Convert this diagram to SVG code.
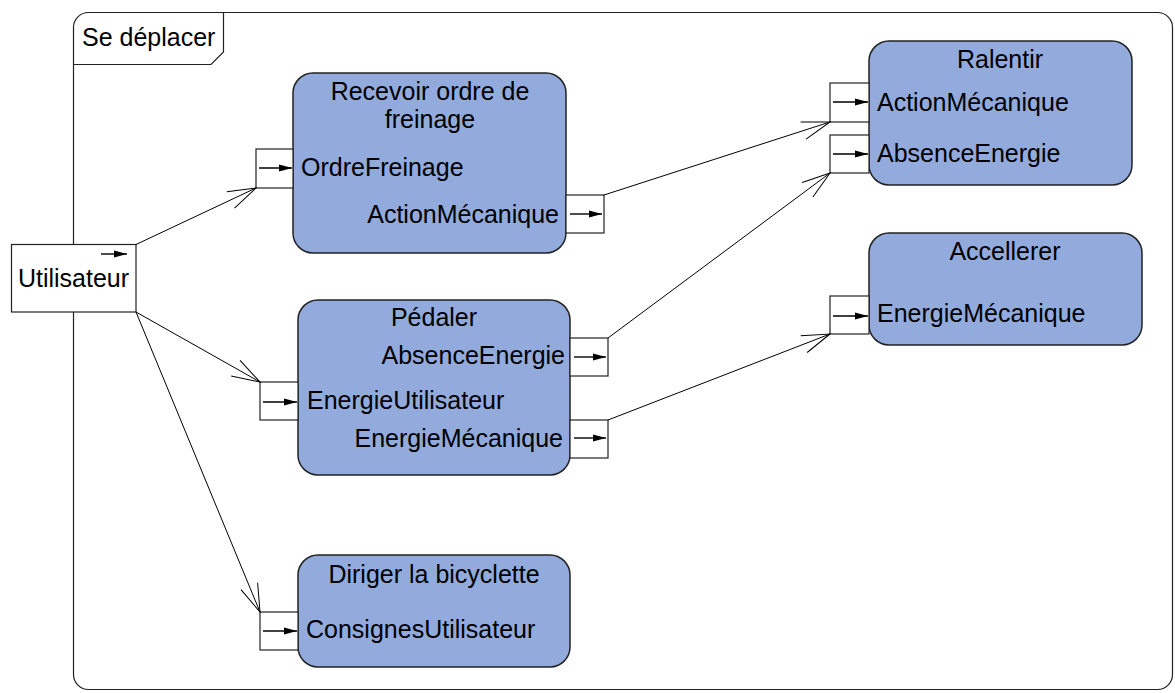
<svg xmlns="http://www.w3.org/2000/svg" width="1175" height="693" viewBox="0 0 1175 693">
<style>
text{font-family:"Liberation Sans",Arial,sans-serif;font-size:25px;fill:#000}
.box{fill:#92aadc;stroke:#222;stroke-width:1.5}
.pin{fill:#fff;stroke:#222;stroke-width:1.2}
.pa{stroke:#000;stroke-width:1.4;fill:none;marker-end:url(#fh)}
.c{stroke:#000;stroke-width:1;fill:none;marker-end:url(#oh)}
.m{text-anchor:middle}.e{text-anchor:end}
</style>
<defs>
<marker id="fh" markerUnits="userSpaceOnUse" markerWidth="14" markerHeight="8" refX="13" refY="4" orient="auto" viewBox="0 0 14 8"><path d="M0,0.5 L13,4 L0,7.5 Z" fill="#000"/></marker>
<marker id="oh" markerUnits="userSpaceOnUse" markerWidth="32" markerHeight="22" refX="30" refY="11" orient="auto" viewBox="0 0 32 22"><path d="M2,2 L30,11 L2,20" fill="none" stroke="#000" stroke-width="1"/></marker>
</defs>
<g id="frame">
<rect x="73.5" y="12.5" width="1099" height="677" rx="15" fill="#fff" stroke="#222" stroke-width="1.2"/>
<path d="M73.5,64.5 L211,64.5 L223.5,52 L223.5,12.5" fill="none" stroke="#222" stroke-width="1.2"/>
<text x="82" y="46">Se déplacer</text>
</g>
<g id="utilisateur">
<rect x="11.5" y="244.5" width="124.5" height="67.5" fill="#fff" stroke="#222" stroke-width="1.2"/>
<line x1="101" y1="254" x2="127" y2="254" class="pa"/>
<text x="73.5" y="287" class="m">Utilisateur</text>
</g>
<g id="recevoir">
<rect x="293" y="73" width="273" height="180" rx="20" class="box"/>
<text x="430" y="100" class="m">Recevoir ordre de</text>
<text x="430" y="128" class="m">freinage</text>
<rect x="256" y="149" width="37" height="39" class="pin"/>
<line x1="259" y1="168" x2="292" y2="168" class="pa"/>
<text x="301" y="176">OrdreFreinage</text>
<rect x="566" y="195" width="38" height="38" class="pin"/>
<line x1="570" y1="214" x2="602" y2="214" class="pa"/>
<text x="559" y="223" class="e">ActionMécanique</text>
</g>
<g id="pedaler">
<rect x="298" y="300" width="272" height="175" rx="20" class="box"/>
<text x="434" y="326" class="m">Pédaler</text>
<rect x="570" y="338" width="38" height="38" class="pin"/>
<line x1="574" y1="357" x2="606" y2="357" class="pa"/>
<text x="565" y="364" class="e">AbsenceEnergie</text>
<rect x="260" y="382" width="38" height="38" class="pin"/>
<line x1="263" y1="402" x2="297" y2="402" class="pa"/>
<text x="307" y="409">EnergieUtilisateur</text>
<rect x="570" y="420" width="38" height="38" class="pin"/>
<line x1="574" y1="438" x2="606" y2="438" class="pa"/>
<text x="563" y="447" class="e">EnergieMécanique</text>
</g>
<g id="diriger">
<rect x="298" y="555" width="272" height="112" rx="20" class="box"/>
<text x="434" y="583" class="m">Diriger la bicyclette</text>
<rect x="260" y="612" width="38" height="38" class="pin"/>
<line x1="263" y1="631" x2="297" y2="631" class="pa"/>
<text x="306" y="638">ConsignesUtilisateur</text>
</g>
<g id="ralentir">
<rect x="869" y="41" width="263" height="144" rx="20" class="box"/>
<text x="1000" y="68" class="m">Ralentir</text>
<rect x="830" y="83" width="39" height="39" class="pin"/>
<line x1="833" y1="102" x2="868" y2="102" class="pa"/>
<text x="877" y="111">ActionMécanique</text>
<rect x="830" y="135" width="39" height="38" class="pin"/>
<line x1="833" y1="154" x2="868" y2="154" class="pa"/>
<text x="877" y="162">AbsenceEnergie</text>
</g>
<g id="accellerer">
<rect x="869" y="233" width="273" height="112" rx="20" class="box"/>
<text x="1005" y="260" class="m">Accellerer</text>
<rect x="830" y="296" width="39" height="38" class="pin"/>
<line x1="833" y1="316" x2="868" y2="316" class="pa"/>
<text x="877" y="322">EnergieMécanique</text>
</g>
<g id="connectors">
<line x1="136" y1="244.5" x2="256" y2="188" class="c"/>
<line x1="136" y1="312" x2="260" y2="382" class="c"/>
<line x1="136" y1="312" x2="260" y2="612" class="c"/>
<line x1="604" y1="195" x2="830" y2="122" class="c"/>
<line x1="608" y1="338" x2="830" y2="173" class="c"/>
<line x1="608" y1="420" x2="830" y2="334" class="c"/>
</g>
</svg>
